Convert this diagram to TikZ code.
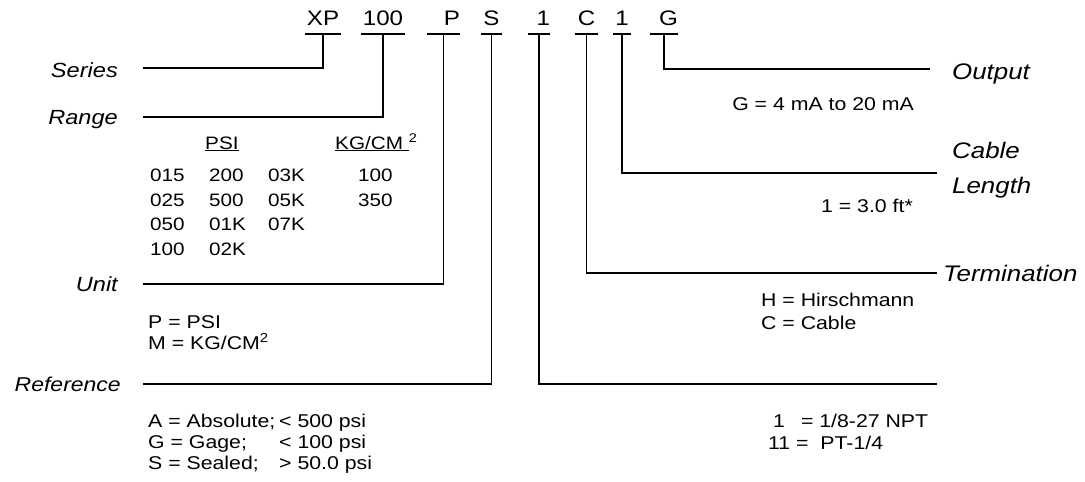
\documentclass[tikz,border=0pt]{standalone}
\usepackage{fontspec}
\setmainfont{Liberation Sans}[FakeStretch=1.15]
\usetikzlibrary{positioning}

\begin{document}
\begin{tikzpicture}[x=1pt,y=-1pt,
  code/.style={font=\fontsize{21}{22}\selectfont,inner sep=0pt,text height=16pt,text depth=8pt,anchor=south},
  lbl/.style={font=\fontsize{20.5}{24}\selectfont\itshape,inner sep=0pt,anchor=base east},
  rlbl/.style={font=\fontsize{22.5}{35}\selectfont\itshape,inner sep=0pt,align=left,anchor=base west},
  txt/.style={font=\fontsize{18.5}{21}\selectfont,inner sep=0pt,align=left},
  num/.style={font=\fontsize{18}{20}\selectfont,inner sep=0pt,anchor=base west},
  lead/.style={line width=1.8pt},
  uline/.style={line width=1.1pt}]
\useasboundingbox (0,0) rectangle (1085,482);
% part number
\node[code,text width=36pt,align=center](xp) at (323,34) {XP};
\node[code,text width=44pt,align=center](rng) at (383,34) {100};
\node[code,text width=33pt,align=right](unit) at (443.5,34) {P\hspace{1pt}};
\node[code,text width=21pt,align=center](ref) at (491.5,34) {S};
\node[code,text width=22pt,align=right](port) at (539,34) {1\hspace{2pt}};
\node[code,text width=23pt,align=center](term) at (586.5,34) {C};
\node[code,text width=17pt,align=center](len) at (622,34) {1};
\node[code,text width=28pt,align=right](out) at (664,34) {G};
\foreach \n in {xp,rng,unit,ref,port,term,len,out} {
   \draw[uline] (\n.south west) -- (\n.south east);
}
% line ends
\coordinate (series-end) at (143,68);
\coordinate (range-end) at (143,117);
\coordinate (unit-end) at (143,284);
\coordinate (ref-end) at (143,384);
\coordinate (port-end) at (937,384);
\coordinate (term-end) at (937,273);
\coordinate (len-end) at (937,173);
\coordinate (out-end) at (930,69);
\draw[lead] (xp.south) |- (series-end);
\draw[lead] (rng.south) |- (range-end);
\draw[lead] (unit.south) |- (unit-end);
\draw[lead] (ref.south) |- (ref-end);
\draw[lead] (port.south) |- (port-end);
\draw[lead] (term.south) |- (term-end);
\draw[lead] (len.south) |- (len-end);
\draw[lead] (out.south) |- (out-end);
% field names
\node[lbl](series) at (118,77) {Series};
\node[lbl](range) at (118,124) {Range};
\node[lbl](unitlbl) at (118,291) {Unit};
\node[lbl,font=\fontsize{20}{24}\selectfont\itshape](reflbl) at (121,391) {Reference};
\node[rlbl](outlbl) at (952,79) {Output};
\node[rlbl](lenlbl) at (952,193) {Cable\\Length};
\node[rlbl](termlbl) at (943,281) {Termination};
% range table
\node[num](psi) at (205,149) {\underline{PSI}};
\node[num](kg) at (335,149) {\underline{KG/CM\ }\textsuperscript{2}};
\foreach \x/\y/\v in %
{150/181/015,150/206/025,150/230/050,150/255/100,
 209/181/200,209/206/500,209/230/01K,209/255/02K,
 268/181/03K,268/206/05K,268/230/07K,
 358/181/100,358/206/350} {
   \node[num](n-\x-\y) at (\x,\y) {\v};
}
% options
\node[txt,anchor=base west](unitopt) at (148,349) {P = PSI\\M = KG/CM\textsuperscript{2}};
\node[txt,anchor=base west](refopt) at (148,469)
   {\makebox[131pt][l]{A = Absolute;}< 500 psi\\
    \makebox[131pt][l]{G = Gage;}< 100 psi\\
    \makebox[131pt][l]{S = Sealed;}> 50.0 psi};
\node[txt,anchor=base east](outopt) at (914,110) {G = 4 mA to 20 mA};
\node[txt,anchor=base east](lenopt) at (913,212) {1 = 3.0 ft*};
\node[txt,anchor=base west,font=\fontsize{18.5}{23}\selectfont](termopt) at (761,329) {H = Hirschmann\\C = Cable};
\node[txt,anchor=base west,font=\fontsize{18.5}{22}\selectfont](portopt) at (768,449) {\hspace{5pt}1\hspace{16pt}= 1/8-27 NPT\\11 = \ PT-1/4};
\end{tikzpicture}
\end{document}
